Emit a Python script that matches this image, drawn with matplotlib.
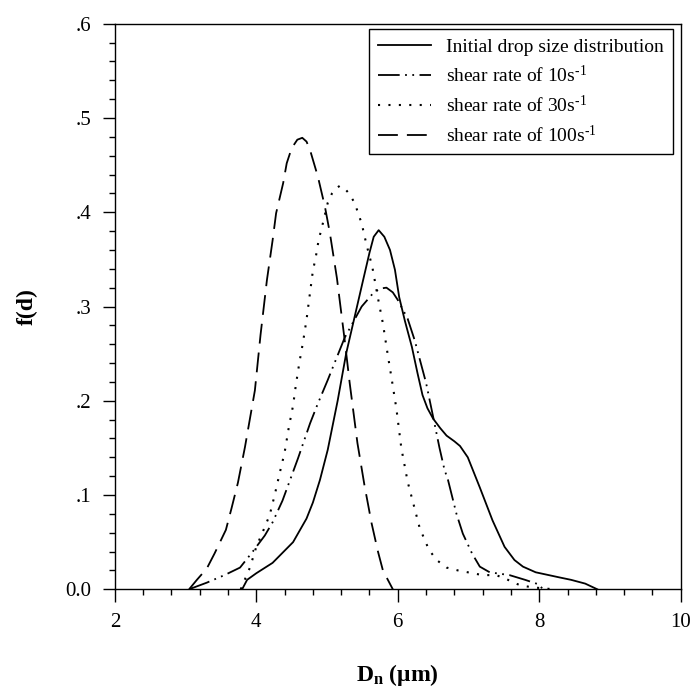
import numpy as np
import matplotlib
matplotlib.use("Agg")
import matplotlib.pyplot as plt
from matplotlib.ticker import MultipleLocator

plt.rcParams['font.family'] = ['Liberation Serif', 'DejaVu Serif']
plt.rcParams['mathtext.fontset'] = 'custom'
plt.rcParams['mathtext.rm'] = 'Liberation Serif'
plt.rcParams['mathtext.it'] = 'Liberation Serif:italic'
plt.rcParams['mathtext.bf'] = 'Liberation Serif:bold'

# initial drop size distribution (solid)
x_init = [3.80, 3.87, 4.00, 4.23, 4.52, 4.71, 4.80, 4.90, 5.01, 5.15, 5.27, 5.39,
          5.51, 5.60, 5.66, 5.73, 5.81, 5.89, 5.96, 6.02, 6.10, 6.20, 6.28, 6.35,
          6.42, 6.50, 6.60, 6.69, 6.80, 6.88, 6.99, 7.16, 7.34, 7.51, 7.65, 7.77,
          7.95, 8.29, 8.45, 8.65, 8.82]
y_init = [0.000, 0.010, 0.017, 0.028, 0.050, 0.075, 0.092, 0.116, 0.148, 0.200, 0.250, 0.289,
          0.328, 0.357, 0.374, 0.381, 0.374, 0.360, 0.339, 0.310, 0.285, 0.257, 0.229, 0.206,
          0.192, 0.181, 0.171, 0.163, 0.157, 0.152, 0.140, 0.108, 0.073, 0.045, 0.031, 0.024,
          0.018, 0.0125, 0.010, 0.006, 0.000]

# shear rate 10 s^-1 (dash-dot)
x_10 = [3.05, 3.30, 3.55, 3.77, 3.95, 4.12, 4.23, 4.37, 4.59, 4.76, 4.87, 5.01,
        5.25, 5.49, 5.65, 5.75, 5.84, 5.93, 6.00, 6.14, 6.24, 6.40, 6.50, 6.59,
        6.66, 6.71, 6.83, 6.92, 7.05, 7.16, 7.30, 7.58, 7.80, 8.00, 8.05]
y_10 = [0.000, 0.007, 0.015, 0.023, 0.040, 0.057, 0.071, 0.094, 0.139, 0.176, 0.197, 0.222,
        0.267, 0.300, 0.314, 0.319, 0.320, 0.315, 0.307, 0.287, 0.264, 0.219, 0.183, 0.150,
        0.127, 0.116, 0.080, 0.059, 0.038, 0.024, 0.018, 0.015, 0.010, 0.005, 0.000]

# shear rate 30 s^-1 (dotted)
x_30 = [3.78, 3.91, 4.00, 4.12, 4.19, 4.26, 4.33, 4.40, 4.46, 4.52, 4.56, 4.61,
        4.66, 4.71, 4.76, 4.80, 4.84, 4.88, 4.94, 5.01, 5.07, 5.12, 5.18, 5.24,
        5.31, 5.39, 5.49, 5.56, 5.64, 5.73, 5.79, 5.86, 5.91, 5.98, 6.05, 6.14,
        6.22, 6.31, 6.44, 6.55, 6.69, 6.85, 7.06, 7.20, 7.39, 7.53, 7.64, 7.74,
        7.91, 8.20]
y_30 = [0.000, 0.023, 0.045, 0.066, 0.079, 0.100, 0.123, 0.145, 0.172, 0.195, 0.217, 0.241,
        0.262, 0.286, 0.315, 0.338, 0.352, 0.370, 0.388, 0.410, 0.420, 0.425, 0.428, 0.426,
        0.420, 0.410, 0.388, 0.365, 0.342, 0.305, 0.282, 0.248, 0.225, 0.192, 0.150, 0.114,
        0.091, 0.065, 0.042, 0.031, 0.023, 0.020, 0.017, 0.015, 0.015, 0.011, 0.007, 0.004,
        0.002, 0.000]

# shear rate 100 s^-1 (dashed)
x_100 = [3.05, 3.16, 3.30, 3.41, 3.57, 3.65, 3.74, 3.84, 3.98, 4.06, 4.15, 4.23,
         4.28, 4.38, 4.43, 4.50, 4.58, 4.65, 4.71, 4.76, 4.87, 4.97, 5.04, 5.14,
         5.25, 5.32, 5.43, 5.53, 5.63, 5.72, 5.79, 5.93]
y_100 = [0.000, 0.010, 0.022, 0.038, 0.063, 0.086, 0.113, 0.151, 0.211, 0.270, 0.328, 0.370,
         0.399, 0.431, 0.452, 0.468, 0.477, 0.479, 0.475, 0.466, 0.438, 0.406, 0.378, 0.330,
         0.264, 0.219, 0.155, 0.110, 0.070, 0.040, 0.020, 0.000]

labels = ["Initial drop size distribution",
          r"shear rate of 10s$^{\text{-1}}$",
          r"shear rate of 30s$^{\text{-1}}$",
          r"shear rate of 100s$^{\text{-1}}$"]

fig = plt.figure(figsize=(6.96, 6.99), dpi=100)
ax = fig.add_axes([0.165, 0.157, 0.813, 0.809])

lw = 1.3
ax.plot(x_init, y_init, color='black', lw=lw, ls='-', label=labels[0])
ax.plot(x_10, y_10, color='black', lw=lw, ls=(0, (12, 3, 1, 3, 1, 3)), label=labels[1])
ax.plot(x_30, y_30, color='black', lw=1.5, ls=(0, (1, 4)), label=labels[2])
ax.plot(x_100, y_100, color='black', lw=lw, ls=(0, (11, 5)), label=labels[3])

ax.set_xlim(2, 10)
ax.set_ylim(0, 0.6)
ax.set_xticks([2, 4, 6, 8, 10])
ax.set_xticklabels(["2", "4", "6", "8", "10"])
ax.set_yticks([0, 0.1, 0.2, 0.3, 0.4, 0.5, 0.6])
ax.set_yticklabels(["0.0", ".1", ".2", ".3", ".4", ".5", ".6"])
ax.xaxis.set_minor_locator(MultipleLocator(0.4))
ax.yaxis.set_minor_locator(MultipleLocator(0.02))
ax.tick_params(which='major', direction='out', length=9, width=1, labelsize=15, pad=8)
ax.tick_params(which='minor', direction='out', length=4, width=1)
ax.tick_params(top=False, right=False)
for s in ax.spines.values():
    s.set_linewidth(1)

ax.set_xlabel(r"D$_{\mathbf{n}}$ (μm)", fontsize=17, fontweight='bold', labelpad=22)
ax.set_ylabel("f(d)", fontsize=17, fontweight='bold', labelpad=20)

leg = ax.legend(loc='upper right', bbox_to_anchor=(0.986, 0.99), borderaxespad=0,
                fontsize=14, handlelength=2.7, labelspacing=0.45, fancybox=False,
                edgecolor='black', framealpha=1, borderpad=0.45, handletextpad=0.8)
leg.get_frame().set_linewidth(1)

fig.savefig("out.png", dpi=100)
